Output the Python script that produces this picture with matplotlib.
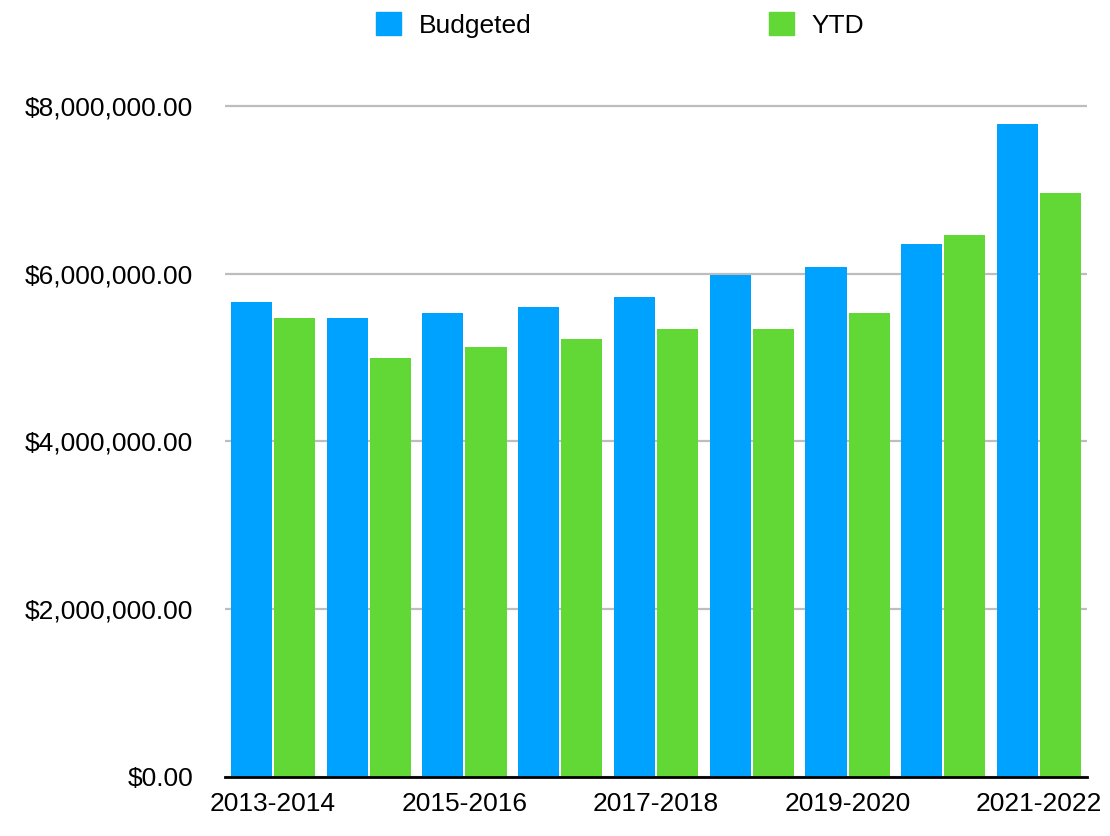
import matplotlib
matplotlib.use('Agg')
import matplotlib.pyplot as plt
from matplotlib.patches import Patch
from matplotlib.ticker import FuncFormatter
import numpy as np

plt.rcParams['font.family'] = ['Liberation Sans', 'DejaVu Sans']

years = ['2013-2014', '2014-2015', '2015-2016', '2016-2017', '2017-2018',
         '2018-2019', '2019-2020', '2020-2021', '2021-2022']
budgeted = [5.66e6, 5.47e6, 5.53e6, 5.60e6, 5.72e6, 5.98e6, 6.08e6, 6.36e6, 7.79e6]
ytd = [5.47e6, 4.99e6, 5.13e6, 5.22e6, 5.34e6, 5.34e6, 5.53e6, 6.46e6, 6.96e6]

blue = '#00A2FF'
green = '#61D836'

fig = plt.figure(figsize=(11.1, 8.36), dpi=100)
ax = fig.add_axes([0.2027, 0.0706, 0.7766, 0.8227])

x = np.arange(len(years))
w = 0.43
ax.bar(x - 0.225, budgeted, width=w, color=blue, zorder=2)
ax.bar(x + 0.225, ytd, width=w, color=green, zorder=2)

ax.set_xlim(-0.5, len(years) - 0.5)
ax.set_ylim(0, 8.2e6)
ax.set_yticks([0, 2e6, 4e6, 6e6, 8e6])
ax.yaxis.set_major_formatter(FuncFormatter(lambda v, p: '${:,.2f}'.format(v)))
ax.grid(axis='y', color='#bdbdbd', linewidth=1.6, zorder=0)
ax.set_axisbelow(True)

ax.set_xticks(x[::2])
ax.set_xticklabels(years[::2])
ax.tick_params(axis='x', length=0, pad=11, labelsize=19)
ax.tick_params(axis='y', length=0, pad=23, labelsize=19)

for s in ['top', 'right', 'left']:
    ax.spines[s].set_visible(False)
ax.spines['bottom'].set_color('black')
ax.spines['bottom'].set_linewidth(2)
ax.spines['bottom'].set_zorder(3)

handles = [Patch(color=blue, label='Budgeted'), Patch(color=green, label='YTD')]
fig.legend(handles=handles, loc='center', bbox_to_anchor=(0.5586, 1 - 25 / 836),
           ncol=2, frameon=False, fontsize=19, handlelength=0.95, handleheight=0.95,
           handletextpad=0.68, columnspacing=9.0)

fig.savefig('out.png', dpi=100)
